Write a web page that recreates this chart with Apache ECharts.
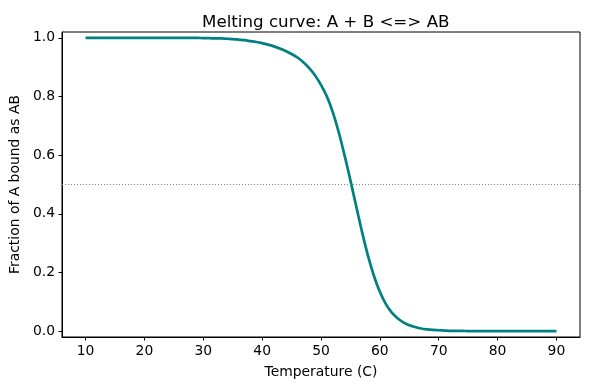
<!DOCTYPE html>
<html>
<head>
<meta charset="utf-8">
<script src="https://cdn.jsdelivr.net/npm/echarts@6/dist/echarts.min.js"></script>
<style>html,body{margin:0;padding:0;background:#fff}#c{width:590px;height:390px}</style>
</head>
<body>
<div id="c"></div>
<script>
const temperatures = [];
for (let t = 10; t <= 90; t++) temperatures.push(t);
const fractionBound = [
  1.000,1.000,1.000,1.000,1.000,1.000,1.000,1.000,1.000,1.000, // 10-19
  1.000,1.000,1.000,1.000,1.000,1.000,1.000,1.000,1.000,1.000, // 20-29
  0.999,0.999,0.998,0.998,0.997,0.996,0.994,0.992,0.989,0.986, // 30-39
  0.982,0.977,0.971,0.964,0.955,0.945,0.933,0.917,0.897,0.872, // 40-49
  0.840,0.800,0.747,0.679,0.600,0.514,0.424,0.336,0.256,0.188, // 50-59
  0.134,0.093,0.064,0.044,0.030,0.020,0.014,0.009,0.006,0.004, // 60-69
  0.003,0.002,0.001,0.001,0.001,0.000,0.000,0.000,0.000,0.000, // 70-79
  0.000,0.000,0.000,0.000,0.000,0.000,0.000,0.000,0.000,0.000, // 80-89
  0.000                                                        // 90
];
const xTicks = [10,20,30,40,50,60,70,80,90];
const yTicks = [0,0.2,0.4,0.6,0.8,1.0];
const midLine = 0.5;
const titleText = 'Melting curve: A + B <=> AB';
const xName = 'Temperature (C)';
const yName = 'Fraction of A bound as AB';

const font = 'DejaVu Sans';
const chart = echarts.init(document.getElementById('c'), null, {renderer:'canvas'});
chart.setOption({
  animation: false,
  title: {
    text: titleText, left: 320.75, top: 9, textAlign: 'center',
    textStyle: {fontFamily: font, fontSize: 16.7, fontWeight: 'normal', color: '#000'}
  },
  grid: {left: 61.5, right: 10, top: 32, bottom: 53, show: true, borderColor: '#000', borderWidth: 1, backgroundColor: 'transparent'},
  xAxis: {
    type: 'value', min: 6, max: 94,
    name: xName, nameLocation: 'middle', nameGap: 28,
    nameTextStyle: {fontFamily: font, fontSize: 13.9, color: '#000'},
    axisLine: {show: true, onZero: false, lineStyle: {color: '#000', width: 1}},
    axisTick: {show: true, length: 3.5, lineStyle: {color: '#000'}, customValues: xTicks},
    axisLabel: {fontFamily: font, fontSize: 13.9, color: '#000', margin: 7, customValues: xTicks},
    splitLine: {show: false}
  },
  yAxis: {
    type: 'value', min: -0.02, max: 1.02,
    name: yName, nameLocation: 'middle', nameGap: 38,
    nameTextStyle: {fontFamily: font, fontSize: 13.9, color: '#000'},
    axisLine: {show: true, onZero: false, lineStyle: {color: '#000', width: 1}},
    axisTick: {show: true, length: 3.5, lineStyle: {color: '#000'}, customValues: yTicks},
    axisLabel: {fontFamily: font, fontSize: 13.9, color: '#000', margin: 7, customValues: yTicks,
      formatter: v => v.toFixed(1)},
    splitLine: {show: false}
  },
  series: [{
    type: 'line',
    data: temperatures.map((t, i) => [t, fractionBound[i]]),
    smooth: 0.3, showSymbol: false,
    lineStyle: {color: '#008080', width: 2.7},
    markLine: {
      silent: true, symbol: 'none', label: {show: false},
      lineStyle: {color: '#808080', type: [1, 2], width: 1.1},
      data: [{yAxis: midLine}]
    }
  }]
});
</script>
</body>
</html>
